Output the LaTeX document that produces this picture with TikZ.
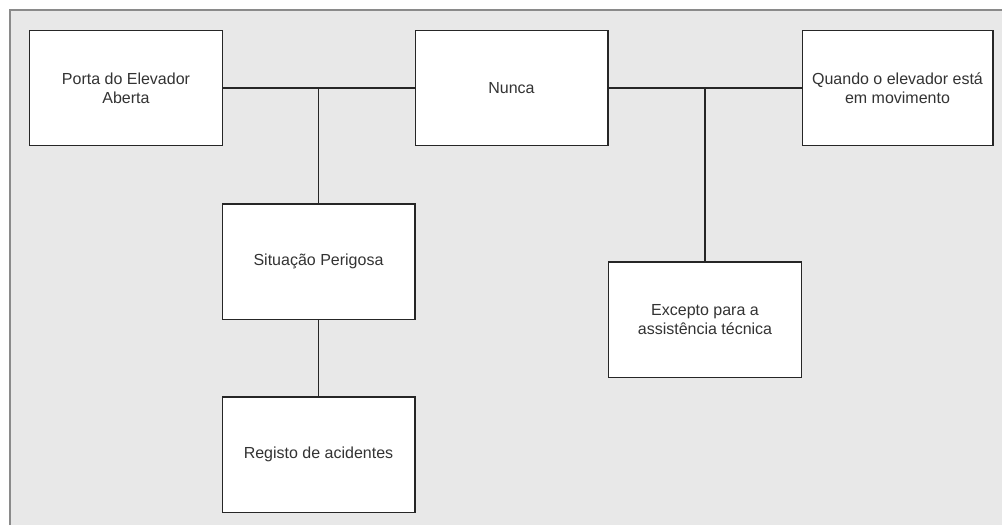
\documentclass[tikz,border=0pt]{standalone}
\usepackage{fontspec}
\setmainfont{Liberation Sans}
\usepackage{tikz}
\usetikzlibrary{calc}

\definecolor{panel}{HTML}{E8E8E8}
\definecolor{frameline}{HTML}{8A8A8A}
\definecolor{boxtext}{HTML}{333333}

\begin{document}
\begin{tikzpicture}[x=0.75pt, y=-0.75pt,
  caixa/.style={draw=black!85, line width=1pt, fill=white, inner sep=0pt,
    minimum width=144.5pt, minimum height=86.5pt, align=center,
    text=boxtext, font=\fontsize{12}{14.25}\selectfont},
  ligacao/.style={draw=black!85, line width=1pt}]
\useasboundingbox (0,0) rectangle (1002,525);

% fundo
\path [fill=panel] (10,10) rectangle (1002,525);
\draw [frameline, line width=1pt] (10,525) -- (10,10) -- (1002,10);

% caixas
\node [caixa] (porta) at (126,88) {Porta do Elevador\\Aberta};
\node [caixa] (nunca) at (511.5,88) {Nunca};
\node [caixa, minimum width=143pt] (quando) at (897.5,88) {Quando o elevador está\\em movimento};
\node [caixa] (perigo) at (318.5,261.5) {Situação Perigosa};
\node [caixa] (registo) at (318.5,454.5) {Registo de acidentes};
\node [caixa] (excepto) at (705,319.5) {Excepto para a\\assistência técnica};

% ligacoes
\draw [ligacao] (porta) -- (nunca);
\draw [ligacao] (nunca) -- (quando);
\draw [ligacao] (perigo.north) -- (perigo.north |- porta.east);
\draw [ligacao] (excepto.north) -- (excepto.north |- nunca.east);
\draw [ligacao] (perigo) -- (registo);
\end{tikzpicture}
\end{document}
